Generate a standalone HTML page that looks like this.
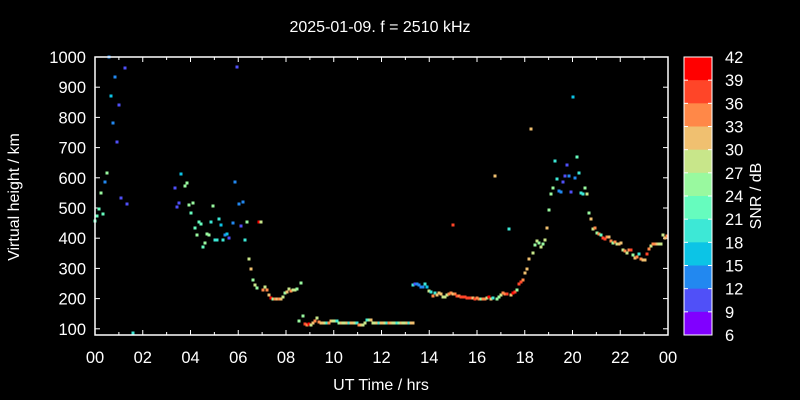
<!DOCTYPE html>
<html><head><style>body{margin:0;background:#000}svg{display:block}text{font-family:"Liberation Sans",sans-serif;fill:#fff}</style></head>
<body>
<svg id="s" width="800" height="400" viewBox="0 0 800 400">
<rect width="800" height="400" fill="#000"/>
<text x="380" y="32" font-size="16" text-anchor="middle">2025-01-09. f = 2510 kHz</text>
<text x="381" y="390" font-size="16" text-anchor="middle">UT Time / hrs</text>
<text transform="translate(19,197) rotate(-90)" font-size="16" text-anchor="middle">Virtual height / km</text>
<text transform="translate(761,196) rotate(-90)" font-size="16" text-anchor="middle">SNR / dB</text>
<g id="g"></g>
<rect x="95" y="57" width="573" height="278" fill="none" stroke="#fff" stroke-width="1.5"/>
</svg>
<script>
var s=document.getElementById('g'),h='';
var C={a:'#8000ff',b:'#5050f8',c:'#2288f0',d:'#0cc4e6',e:'#3de8d6',f:'#66fcbe',g:'#99f99f',h:'#c8e68a',i:'#f0c070',j:'#ff8848',k:'#ff4528',l:'#ff0000'};
var FS=16.5;
for(var v=100;v<=1000;v+=100){var y=57+(1000-v)*30.2/100;h+='<text x="86" y="'+(y+6)+'" font-size="'+FS+'" text-anchor="end">'+v+'</text>';
h+='<line x1="95" x2="100" y1="'+y+'" y2="'+y+'" stroke="#fff"/><line x1="663" x2="668" y1="'+y+'" y2="'+y+'" stroke="#fff"/>';}
for(var t=0;t<=24;t++){var x=95+t*573/24,L=t%2?3:5;h+='<line x1="'+x+'" x2="'+x+'" y1="335" y2="'+(335-L)+'" stroke="#fff"/><line x1="'+x+'" x2="'+x+'" y1="57" y2="'+(57+L)+'" stroke="#fff"/>';
if(t%2==0)h+='<text x="'+x+'" y="363" font-size="'+FS+'" text-anchor="middle">'+('0'+(t%24)).slice(-2)+'</text>';}
var keys='lkjihgfedcba';
for(var i=0;i<12;i++){var y=57+i*278/12;h+='<rect x="684" y="'+y+'" width="28" height="'+(278/12+0.5)+'" fill="'+C[keys[i]]+'"/>';}
h+='<rect x="684" y="57" width="28" height="278" fill="none" stroke="#fff"/>';
for(var i=0;i<=12;i++){var y=57+i*278/12;h+='<line x1="684" x2="688" y1="'+y+'" y2="'+y+'" stroke="#fff"/><line x1="708" x2="712" y1="'+y+'" y2="'+y+'" stroke="#fff"/>';
h+='<text x="725" y="'+(y+6)+'" font-size="'+FS+'">'+(42-3*i)+'</text>';}
var P=[[95,221,'f'],[97,216,'f'],[99,209,'f'],[101,193,'g'],[103,214,'f'],[105,182,'c'],[107,173,'g'],[109,57,'c'],[111,96,'d'],[113,123,'c'],[115,77,'c'],[117,142,'b'],[119,105,'b'],[121,198,'b'],[125,68,'b'],[127,204,'b'],[133,333,'e'],
[175,188,'b'],[177,207,'b'],[179,203,'b'],[181,174,'d'],[185,186,'g'],[187,183,'g'],[189,205,'g'],[191,213,'f'],[193,203,'g'],[195,228,'f'],[197,235,'g'],[199,222,'f'],[201,224,'f'],[203,247,'f'],[205,243,'g'],[207,234,'g'],[209,235,'g'],[211,222,'e'],[213,206,'g'],[215,240,'e'],[217,240,'e'],[219,219,'e'],[221,225,'d'],[223,240,'e'],[225,235,'c'],[227,234,'d'],[229,238,'b'],[233,223,'c'],[235,182,'c'],[237,67,'b'],[239,204,'c'],[241,226,'b'],[243,202,'c'],[245,240,'e'],[247,222,'g'],[249,259,'h'],[251,269,'i'],[253,280,'g'],[255,285,'h'],[257,288,'g'],[259,222,'l'],[261,222,'h'],[263,290,'j'],[265,287,'h'],[267,290,'j'],[269,295,'i'],[271,298,'l'],[273,299,'g'],[275,299,'j'],[277,299,'i'],[279,299,'j'],[281,299,'i'],[283,297,'h'],[285,293,'g'],[287,292,'i'],[289,289,'h'],[291,291,'j'],[293,290,'h'],[295,290,'h'],[297,289,'g'],[301,283,'g'],
[299,321,'g'],[303,316,'g'],[305,324,'k'],[307,325,'j'],[309,324,'l'],[311,325,'h'],[313,323,'i'],[315,321,'j'],[317,318,'h'],[319,322,'j'],
[413,285,'e'],[415,284,'b'],[417,284,'c'],[419,285,'c'],[421,287,'c'],[423,287,'c'],[425,284,'e'],[427,287,'d'],[429,291,'h'],[431,292,'e'],[433,296,'j'],[435,293,'e'],[437,295,'i'],[439,293,'i'],[441,294,'i'],[443,297,'h'],[445,297,'h'],[447,295,'h'],[449,294,'j'],[451,293,'j'],[453,294,'i'],[455,294,'j'],[457,296,'k'],[459,296,'j'],[461,297,'k'],[463,297,'k'],[465,297,'k'],[467,298,'k'],[469,298,'k'],[471,298,'k'],[473,298,'i'],[475,299,'k'],[477,298,'j'],[479,299,'j'],[481,299,'g'],[483,299,'j'],[485,299,'j'],[487,298,'h'],[489,297,'l'],[491,299,'i'],[493,298,'e'],[497,299,'g'],[499,297,'g'],[501,295,'h'],[503,293,'j'],[505,294,'j'],[507,294,'k'],[511,295,'i'],[513,293,'l'],[515,292,'k'],[517,290,'g'],[519,284,'k'],[521,282,'k'],[523,280,'j'],[525,273,'i'],[527,269,'i'],[529,259,'i'],[533,253,'h'],[535,245,'g'],[537,241,'h'],[539,243,'g'],[541,247,'h'],[543,244,'g'],[545,240,'h'],[547,228,'i'],[549,210,'g'],
[453,225,'k'],[495,176,'i'],[509,229,'e'],[531,129,'i'],[573,97,'d'],[555,161,'e'],[577,157,'f'],[567,165,'b'],[565,176,'b'],[569,176,'c'],[575,178,'c'],[579,173,'e'],[557,179,'e'],[563,182,'b'],[553,188,'g'],[585,188,'g'],[551,194,'g'],[559,191,'c'],[561,192,'c'],[571,192,'b'],[581,193,'e'],[583,194,'e'],[587,194,'h'],[589,213,'g'],[591,219,'i'],[593,229,'h'],[595,228,'j'],[597,233,'g'],[599,234,'j'],[601,235,'f'],[603,238,'k'],[605,239,'k'],[607,237,'j'],[609,237,'i'],[611,241,'j'],[613,243,'g'],[615,242,'j'],[617,244,'h'],[619,244,'i'],[621,243,'i'],[623,250,'h'],[625,251,'j'],[627,253,'h'],[629,250,'j'],[631,250,'k'],[633,255,'g'],[635,258,'i'],[637,257,'j'],[639,254,'e'],[641,259,'j'],[643,260,'i'],[645,260,'i'],[647,254,'k'],[649,249,'j'],[651,246,'h'],[653,244,'j'],[655,244,'j'],[657,244,'i'],[659,244,'h'],[661,244,'h'],[663,235,'h'],[665,238,'i'],[667,236,'j']];
var cyc='iihejihhegihhie';
for(var x=321,k=0;x<=413;x+=2,k++){var yy=323;if(x>330&&x<338)yy=321;if(x>358&&x<364)yy=325;if(x>366&&x<372)yy=320;P.push([x,yy,cyc[k%cyc.length]]);}
P.forEach(function(p){h+='<rect x="'+(p[0]-1.5)+'" y="'+(p[1]-1.5)+'" width="3" height="3" fill="'+C[p[2]]+'"/>';});
s.innerHTML=h;
</script>
</body></html>
